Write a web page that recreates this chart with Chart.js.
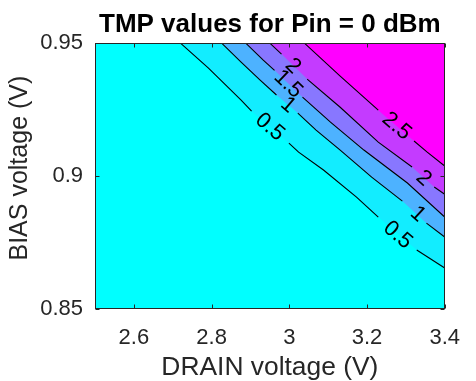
<!DOCTYPE html>
<html>
<head>
<meta charset="utf-8">
<script src="https://cdn.jsdelivr.net/npm/chart.js@4/dist/chart.umd.min.js"></script>
<style>
  html, body { margin: 0; padding: 0; background: #fff; }
  canvas { display: block; }
</style>
</head>
<body>
<canvas id="c" width="476" height="381"></canvas>
<script>
// Axis ticks
const drainTicks = [2.6, 2.8, 3, 3.2, 3.4];
const drainTickLabels = ['2.6', '2.8', '3', '3.2', '3.4'];
const biasTicks = [0.85, 0.9, 0.95];
const biasTickLabels = ['0.85', '0.9', '0.95'];

// TMP contour levels and their iso-lines, as [DRAIN V, BIAS V] vertices
const levels = [0.5, 1, 1.5, 2, 2.5];
const iso05 = [[2.720, 0.9500], [2.792, 0.9406], [2.876, 0.9286], [2.903, 0.9244], [2.999, 0.9124], [3.024, 0.9090],
               [3.088, 0.9023], [3.173, 0.8921], [3.229, 0.8846], [3.328, 0.8722], [3.400, 0.8654]];
const iso10 = [[2.826, 0.9500], [2.876, 0.9429], [2.925, 0.9361], [2.967, 0.9305], [3.022, 0.9237], [3.069, 0.9173],
               [3.131, 0.9098], [3.212, 0.8996], [3.291, 0.8906], [3.353, 0.8823], [3.400, 0.8771]];
const iso15 = [[2.888, 0.9500], [2.933, 0.9436], [2.962, 0.9398], [3.034, 0.9297], [3.106, 0.9203], [3.192, 0.9098],
               [3.304, 0.8974], [3.400, 0.8846]];
const iso20 = [[2.950, 0.9500], [2.980, 0.9459], [3.046, 0.9365], [3.131, 0.9259], [3.229, 0.9128], [3.316, 0.9034],
               [3.373, 0.8959], [3.400, 0.8932]];
const iso25 = [[3.039, 0.9500], [3.131, 0.9376], [3.229, 0.9248], [3.321, 0.9132], [3.355, 0.9090], [3.400, 0.9038]];

// Inline level labels: level and the point on its iso-line where the label sits
const labelLevels = [0.5, 0.5, 1, 1, 1.5, 2, 2, 2.5];
const labelDrain = [2.950, 3.279, 2.997, 3.331, 2.997, 3.009, 3.346, 3.276];
const labelBias = [0.9184, 0.8778, 0.9267, 0.8857, 0.9346, 0.9414, 0.8992, 0.9188];

// "cool" colormap steps for the filled bands (below 0.5 is the plot background)
const baseColor = 'rgb(0,255,255)';
const bandColors = ['rgb(18,237,255)', 'rgb(77,178,255)', 'rgb(136,119,255)', 'rgb(196,59,255)', 'rgb(255,0,255)'];
const isoLines = [iso05, iso10, iso15, iso20, iso25];

const FONT = "'Liberation Sans', Arial, Helvetica, sans-serif";
const AXIS_GREY = '#262626';
const LABEL_FONT_SIZE = 22;
const GAP_RADIUS = 16;

function labelPixels(chart, level) {
  const xs = chart.scales.x, ys = chart.scales.y;
  const out = [];
  labelLevels.forEach((lv, i) => {
    if (lv === level) out.push({ x: xs.getPixelForValue(labelDrain[i]), y: ys.getPixelForValue(labelBias[i]) });
  });
  return out;
}

// Break the iso-line where its level label is written
function segmentColor(ctx) {
  const level = ctx.chart.data.datasets[ctx.datasetIndex].level;
  const mx = (ctx.p0.x + ctx.p1.x) / 2, my = (ctx.p0.y + ctx.p1.y) / 2;
  for (const p of labelPixels(ctx.chart, level)) {
    if (Math.hypot(p.x - mx, p.y - my) < GAP_RADIUS) return 'rgba(0,0,0,0)';
  }
  return '#000';
}

// Filled bands: everything above an iso-line (up to the top edge) is at or above its level
const bandSets = levels.map((lv, i) => ({
  label: 'TMP ≥ ' + lv,
  level: lv,
  data: isoLines[i].map(([x, y]) => ({ x, y })),
  fill: 'end',
  backgroundColor: bandColors[i],
  borderWidth: 0,
  pointRadius: 0,
  pointHoverRadius: 0,
  tension: 0,
  order: 20 - i
}));

// Contour lines on top of all bands
const lineSets = levels.map((lv, i) => ({
  label: 'TMP = ' + lv,
  level: lv,
  data: isoLines[i].map(([x, y]) => ({ x, y })),
  fill: false,
  borderColor: '#000',
  borderWidth: 1.1,
  pointRadius: 0,
  pointHoverRadius: 0,
  tension: 0,
  order: 5 - i,
  segment: { borderColor: segmentColor }
}));

const contourDecor = {
  id: 'contourDecor',
  beforeDatasetsDraw(chart) {
    const { ctx, chartArea: a } = chart;
    ctx.save();
    ctx.fillStyle = baseColor;
    ctx.fillRect(a.left, a.top, a.right - a.left, a.bottom - a.top);
    ctx.restore();
  },
  afterDatasetsDraw(chart) {
    const { ctx, chartArea: a } = chart;
    const xs = chart.scales.x, ys = chart.scales.y;

    // level labels, rotated along the local direction of the iso-line
    ctx.save();
    ctx.fillStyle = '#000';
    ctx.font = LABEL_FONT_SIZE + 'px ' + FONT;
    ctx.textAlign = 'center';
    ctx.textBaseline = 'middle';
    labelLevels.forEach((lv, i) => {
      const px = xs.getPixelForValue(labelDrain[i]);
      const py = ys.getPixelForValue(labelBias[i]);
      const pts = chart.getDatasetMeta(levels.indexOf(lv)).data;
      let best = 0, bestD = Infinity;
      for (let k = 0; k < pts.length - 1; k++) {
        const d = Math.hypot((pts[k].x + pts[k + 1].x) / 2 - px, (pts[k].y + pts[k + 1].y) / 2 - py);
        if (d < bestD) { bestD = d; best = k; }
      }
      const ang = Math.atan2(pts[best + 1].y - pts[best].y, pts[best + 1].x - pts[best].x);
      ctx.save();
      ctx.translate(px, py);
      ctx.rotate(ang);
      ctx.fillText(String(lv), 0, 0);
      ctx.restore();
    });
    ctx.restore();

    // axes box with inward tick marks
    ctx.save();
    ctx.strokeStyle = AXIS_GREY;
    ctx.lineWidth = 1;
    const L = Math.round(a.left) + 0.5, R = Math.round(a.right) - 0.5;
    const T = Math.round(a.top) + 0.5, B = Math.round(a.bottom) - 0.5;
    ctx.strokeRect(L, T, R - L, B - T);
    const tl = 4;
    ctx.beginPath();
    drainTicks.forEach(v => {
      const x = Math.round(xs.getPixelForValue(v)) + 0.5;
      ctx.moveTo(x, B); ctx.lineTo(x, B - tl);
      ctx.moveTo(x, T); ctx.lineTo(x, T + tl);
    });
    biasTicks.forEach(v => {
      const y = Math.round(ys.getPixelForValue(v)) + 0.5;
      ctx.moveTo(L, y); ctx.lineTo(L + tl, y);
      ctx.moveTo(R, y); ctx.lineTo(R - tl, y);
    });
    ctx.stroke();
    ctx.restore();
  },
  afterDraw(chart) {
    // y-axis title, set slightly above the axis centre
    const { ctx, chartArea: a } = chart;
    ctx.save();
    ctx.fillStyle = AXIS_GREY;
    ctx.font = '25px ' + FONT;
    ctx.textAlign = 'center';
    ctx.textBaseline = 'middle';
    ctx.translate(20, (a.top + a.bottom) / 2 - 8);
    ctx.rotate(-Math.PI / 2);
    ctx.fillText('BIAS voltage (V)', 0, 0);
    ctx.restore();
  }
};

function tickText(ticks, labels, v) {
  const i = ticks.findIndex(t => Math.abs(t - v) < 1e-9);
  return i >= 0 ? labels[i] : '';
}

new Chart(document.getElementById('c'), {
  type: 'line',
  data: { datasets: bandSets.concat(lineSets) },
  options: {
    responsive: false,
    animation: false,
    events: [],
    layout: { padding: { left: 0, right: 17, top: 0, bottom: 0 } },
    plugins: {
      legend: { display: false },
      tooltip: { enabled: false },
      filler: { propagate: false },
      title: {
        display: true,
        text: 'TMP values for Pin = 0 dBm',
        color: '#000',
        fullSize: false,
        font: { family: FONT, size: 26, weight: 'bold' },
        padding: { top: 9, bottom: 3 }
      }
    },
    scales: {
      x: {
        type: 'linear',
        min: 2.5,
        max: 3.4,
        afterBuildTicks: s => { s.ticks = drainTicks.map(v => ({ value: v })); },
        afterFit: s => { s.height = 72; },
        ticks: {
          callback: v => tickText(drainTicks, drainTickLabels, v),
          font: { family: FONT, size: 22 },
          color: AXIS_GREY,
          padding: 16,
          maxRotation: 0,
          autoSkip: false
        },
        grid: { display: false, drawTicks: false },
        border: { display: false },
        title: {
          display: true,
          text: 'DRAIN voltage (V)',
          color: AXIS_GREY,
          font: { family: FONT, size: 26.4 },
          padding: { top: 0, bottom: -3 }
        }
      },
      y: {
        type: 'linear',
        min: 0.85,
        max: 0.95,
        afterBuildTicks: s => { s.ticks = biasTicks.map(v => ({ value: v })); },
        afterFit: s => { s.width = 95; },
        ticks: {
          callback: v => tickText(biasTicks, biasTickLabels, v),
          font: { family: FONT, size: 22 },
          color: AXIS_GREY,
          padding: 12,
          autoSkip: false
        },
        grid: { display: false, drawTicks: false },
        border: { display: false },
        title: { display: false }
      }
    }
  },
  plugins: [contourDecor]
});
</script>
</body>
</html>
